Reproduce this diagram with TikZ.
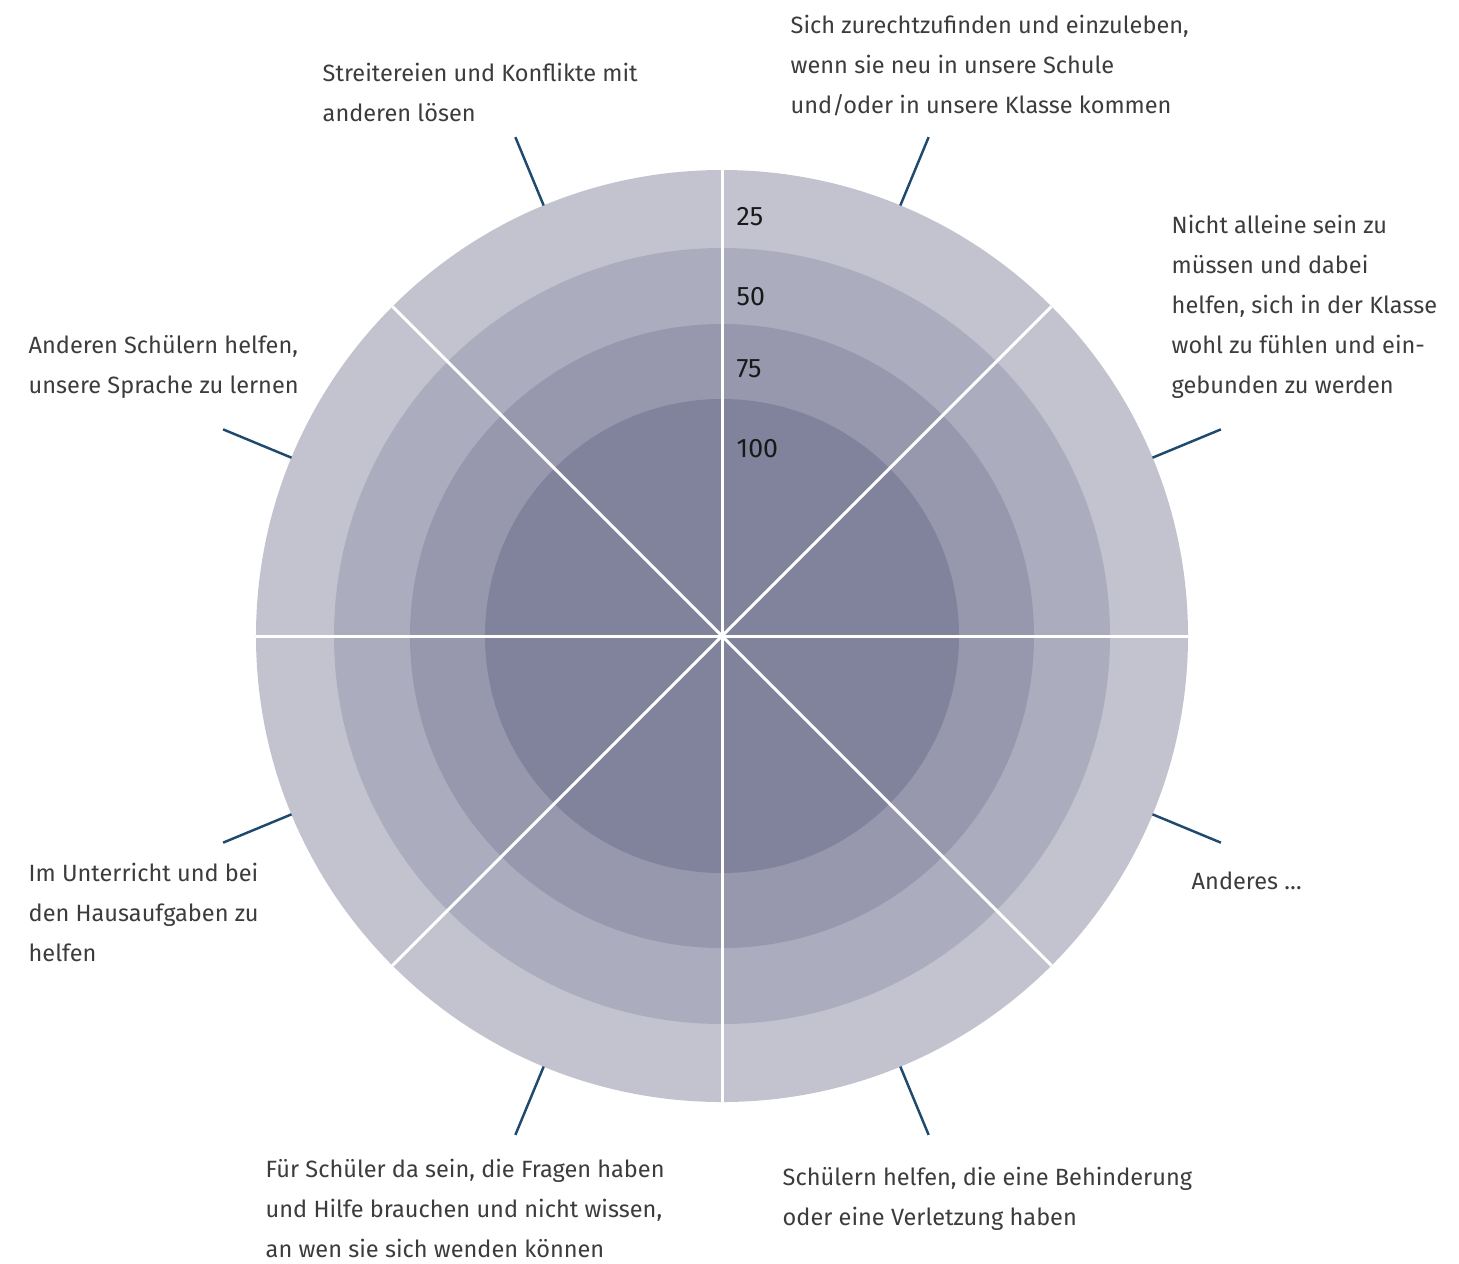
\documentclass[tikz,border=0pt]{standalone}
\usepackage{fontspec}
\setmainfont{Fira Sans}
\usetikzlibrary{positioning,calc}

\definecolor{ringA}{HTML}{C3C3D0}
\definecolor{ringB}{HTML}{ABACBD}
\definecolor{ringC}{HTML}{9798AD}
\definecolor{ringD}{HTML}{81839D}
\definecolor{tickblue}{HTML}{1F4A6E}
\definecolor{labelgray}{HTML}{3C3C3C}

\tikzset{
  lbl/.style={anchor=base west, align=left, inner sep=0pt, text=labelgray,
              font=\fontsize{6.7}{11.38}\selectfont},
  scaletxt/.style={anchor=base west, inner sep=0pt, text=black!90,
              font=\fontsize{7.6}{11.38}\selectfont},
  sep/.style={white, line width=0.85pt},
  tick/.style={tickblue, line width=0.7pt}
}

\begin{document}
\begin{tikzpicture}
				\useasboundingbox (-7.22,-6.27) rectangle (7.37,6.36);

				% Rings
				\fill[ringA] (0,0) circle (4.66);
				\fill[ringB] (0,0) circle (3.88);
				\fill[ringC] (0,0) circle (3.12);
				\fill[ringD] (0,0) circle (2.37);

				% Sector lines
				\draw[sep] (0:4.66) -- (180:4.66);
				\draw[sep] (90:4.66) -- (270:4.66);
				\draw[sep] (45:4.66) -- (225:4.66);
				\draw[sep] (135:4.66) -- (315:4.66);

				% Scale
				\node[scaletxt] (s25) at (0.14, 4.11) {25};
				\node[scaletxt] (s50) at (0.14, 3.31) {50};
				\node[scaletxt] (s75) at (0.14, 2.59) {75};
				\node[scaletxt] (s100) at (0.14, 1.79) {100};

				% Ticks
				\draw[tick] (67.5:4.66) -- (67.5:5.4);
				\draw[tick] (22.5:4.66) -- (22.5:5.4);
				\draw[tick] (-22.5:4.66) -- (-22.5:5.4);
				\draw[tick] (-67.5:4.66) -- (-67.5:5.4);
				\draw[tick] (112.5:4.66) -- (112.5:5.4);
				\draw[tick] (157.5:4.66) -- (157.5:5.4);
				\draw[tick] (202.5:4.66) -- (202.5:5.4);
				\draw[tick] (247.5:4.66) -- (247.5:5.4);

				% Labels (placed by the baseline of their last line)
				\node[lbl] (zurecht) at (0.68, 5.23) {Sich zurechtzufinden und einzuleben,\\wenn sie neu in unsere Schule\\und/oder in unsere Klasse kommen};
				\node[lbl] (streit) at (-4.00, 5.15) {Streitereien und Konflikte mit\\anderen lösen};
				\node[lbl] (allein) at (4.49, 2.43) {Nicht alleine sein zu\\müssen und dabei\\helfen, sich in der Klasse\\wohl zu fühlen und ein-\\gebunden zu werden};
				\node[lbl] (sprache) at (-6.94, 2.43) {Anderen Schülern helfen,\\unsere Sprache zu lernen};
				\node[lbl] (unterricht) at (-6.94, -3.25) {Im Unterricht und bei\\den Hausaufgaben zu\\helfen};
				\node[lbl] (anderes) at (4.69, -2.53) {Anderes …};
				\node[lbl] (fragen) at (-4.57, -6.21) {Für Schüler da sein, die Fragen haben\\und Hilfe brauchen und nicht wissen,\\an wen sie sich wenden können};
				\node[lbl] (behind) at (0.60, -5.89) {Schülern helfen, die eine Behinderung\\oder eine Verletzung haben};
\end{tikzpicture}
\end{document}
